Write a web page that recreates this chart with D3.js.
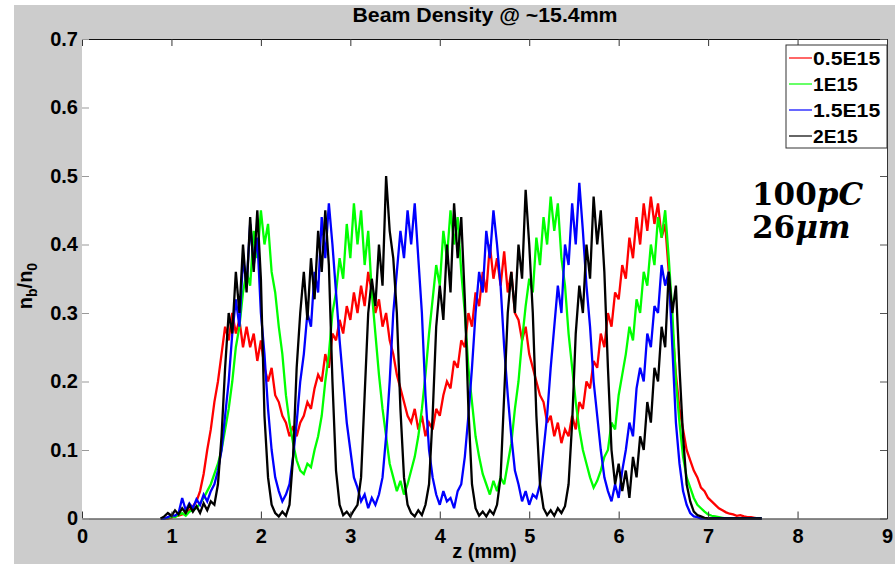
<!DOCTYPE html>
<html>
<head>
<meta charset="utf-8">
<script src="https://cdn.jsdelivr.net/npm/d3@7"></script>
<style>
  body { margin: 0; background: #fff; }
  text { font-family: 'Liberation Sans', Arial, sans-serif; font-weight: bold; }
</style>
</head>
<body>
<svg id="chart" width="895" height="564"></svg>
<script>
// z sampling of the traces (mm)
const zStart = 0.88
const zStep = 0.04

const seriesNames = ['0.5E15', '1E15', '1.5E15', '2E15']
const seriesColors = ['#ff0000', '#00ff00', '#0000ff', '#000000']

// n_b/n_0, one value per z sample
const red = [
  0, 0, 0, 0.002, 0.003, 0.004, 0.006, 0.008, 0.012, 0.018,
  0.025, 0.04, 0.065, 0.1, 0.13, 0.17, 0.2, 0.24, 0.28, 0.26,
  0.3, 0.27, 0.29, 0.25, 0.28, 0.25, 0.27, 0.23, 0.26, 0.22,
  0.2, 0.22, 0.18, 0.17, 0.15, 0.14, 0.12, 0.135, 0.12, 0.14,
  0.15, 0.17, 0.16, 0.19, 0.21, 0.2, 0.24, 0.22, 0.27, 0.26,
  0.29, 0.27, 0.31, 0.29, 0.33, 0.3, 0.34, 0.31, 0.36, 0.33,
  0.3, 0.32, 0.28, 0.3, 0.26, 0.24, 0.21, 0.19, 0.17, 0.15,
  0.14, 0.16, 0.13, 0.15, 0.12, 0.14, 0.13, 0.16, 0.15, 0.18,
  0.2, 0.19, 0.23, 0.22, 0.26, 0.25, 0.3, 0.28, 0.33, 0.31,
  0.36, 0.33, 0.4, 0.35, 0.38, 0.34, 0.39, 0.33, 0.36, 0.3,
  0.29, 0.26, 0.28, 0.24, 0.22, 0.2, 0.18, 0.17, 0.14, 0.15,
  0.12, 0.14, 0.11, 0.13, 0.12, 0.15, 0.13, 0.17, 0.16, 0.2,
  0.19, 0.23, 0.22, 0.27, 0.25, 0.3, 0.28, 0.33, 0.32, 0.37,
  0.35, 0.41, 0.38, 0.44, 0.4, 0.46, 0.42, 0.47, 0.43, 0.46,
  0.41, 0.43, 0.36, 0.28, 0.21, 0.16, 0.13, 0.1, 0.085, 0.07,
  0.06, 0.045, 0.04, 0.03, 0.025, 0.02, 0.015, 0.012, 0.009, 0.007,
  0.006, 0.004, 0.005, 0.003, 0.002, 0.002, 0.001, 0, 0
]
const green = [
  0, 0, 0.001, 0.003, 0.002, 0.005, 0.008, 0.004, 0.01, 0.012,
  0.015, 0.022, 0.03, 0.04, 0.05, 0.065, 0.08, 0.1, 0.13, 0.16,
  0.2, 0.25, 0.28, 0.33, 0.36, 0.34, 0.42, 0.38, 0.45, 0.4,
  0.43, 0.36, 0.33, 0.28, 0.24, 0.18, 0.14, 0.11, 0.085, 0.07,
  0.065, 0.08, 0.075, 0.1, 0.12, 0.15, 0.2, 0.24, 0.3, 0.33,
  0.38, 0.35, 0.43, 0.38, 0.46, 0.4, 0.45, 0.37, 0.42, 0.33,
  0.27, 0.21, 0.16, 0.12, 0.08, 0.06, 0.04, 0.055, 0.035, 0.05,
  0.07, 0.09, 0.12, 0.16, 0.21, 0.27, 0.32, 0.37, 0.34, 0.42,
  0.38, 0.45, 0.4, 0.44, 0.36, 0.3, 0.22, 0.17, 0.12, 0.09,
  0.065, 0.05, 0.035, 0.055, 0.04, 0.06, 0.05, 0.08, 0.11, 0.16,
  0.2, 0.26, 0.31, 0.35, 0.33, 0.41, 0.37, 0.44, 0.4, 0.47,
  0.42, 0.46, 0.38, 0.34, 0.27, 0.22, 0.17, 0.13, 0.1, 0.08,
  0.06, 0.045, 0.055, 0.07, 0.09, 0.1, 0.14, 0.13, 0.18, 0.21,
  0.24, 0.28, 0.26, 0.32, 0.3, 0.36, 0.34, 0.4, 0.37, 0.44,
  0.41, 0.45, 0.38, 0.3, 0.2, 0.14, 0.09, 0.06, 0.045, 0.03,
  0.02, 0.015, 0.01, 0.006, 0.004, 0.003, 0.002, 0.001, 0, 0,
  0, 0, 0, 0, 0, 0, 0, 0, 0
]
const blue = [
  0, 0, 0.002, 0.005, 0.004, 0.008, 0.03, 0.012, 0.022, 0.015,
  0.028, 0.02, 0.035, 0.025, 0.04, 0.05, 0.07, 0.1, 0.15, 0.2,
  0.27, 0.32, 0.28, 0.38, 0.34, 0.43, 0.37, 0.41, 0.3, 0.24,
  0.16, 0.1, 0.06, 0.04, 0.025, 0.035, 0.05, 0.09, 0.14, 0.2,
  0.24, 0.3, 0.28, 0.36, 0.33, 0.44, 0.38, 0.46, 0.4, 0.33,
  0.26, 0.2, 0.14, 0.1, 0.06, 0.045, 0.025, 0.035, 0.015, 0.03,
  0.02, 0.035, 0.06, 0.12, 0.2, 0.3, 0.36, 0.42, 0.38, 0.45,
  0.4, 0.46, 0.38, 0.3, 0.18, 0.1, 0.06, 0.035, 0.02, 0.04,
  0.025, 0.03, 0.015, 0.04, 0.05, 0.09, 0.15, 0.22, 0.3, 0.36,
  0.33, 0.42, 0.38, 0.45, 0.4, 0.34, 0.25, 0.18, 0.12, 0.07,
  0.05, 0.025, 0.04, 0.02, 0.035, 0.03, 0.05, 0.1, 0.15, 0.22,
  0.28, 0.34, 0.3, 0.4, 0.37, 0.46, 0.4, 0.49, 0.42, 0.34,
  0.28, 0.2, 0.15, 0.1, 0.06, 0.04, 0.025, 0.05, 0.03, 0.07,
  0.1, 0.14, 0.12, 0.19, 0.22, 0.2, 0.27, 0.25, 0.31, 0.3,
  0.37, 0.34, 0.36, 0.25, 0.14, 0.08, 0.04, 0.02, 0.008, 0.003,
  0.002, 0, 0, 0, 0, 0, 0, 0, 0, 0,
  0, 0, 0, 0, 0, 0, 0, 0, 0
]
const black = [
  0, 0.003, 0.008, 0.004, 0.012, 0.006, 0.015, 0.008, 0.02, 0.01,
  0.018, 0.008, 0.022, 0.012, 0.025, 0.02, 0.05, 0.12, 0.22, 0.3,
  0.27, 0.36, 0.3, 0.4, 0.33, 0.44, 0.36, 0.45, 0.35, 0.15,
  0.06, 0.02, 0.008, 0.003, 0.01, 0.004, 0.02, 0.09, 0.22, 0.3,
  0.36, 0.29, 0.38, 0.32, 0.42, 0.36, 0.45, 0.37, 0.2, 0.07,
  0.02, 0.005, 0.01, 0.003, 0.012, 0.02, 0.06, 0.18, 0.3, 0.35,
  0.31, 0.4, 0.34, 0.5, 0.42, 0.38, 0.3, 0.16, 0.06, 0.02,
  0.008, 0.003, 0.012, 0.005, 0.02, 0.05, 0.15, 0.28, 0.34, 0.29,
  0.4, 0.33, 0.46, 0.38, 0.44, 0.32, 0.16, 0.05, 0.015, 0.004,
  0.01, 0.003, 0.012, 0.006, 0.02, 0.06, 0.18, 0.3, 0.36, 0.3,
  0.4, 0.35, 0.48, 0.4, 0.3, 0.15, 0.05, 0.015, 0.005, 0.012,
  0.004, 0.015, 0.008, 0.018, 0.05, 0.14, 0.27, 0.34, 0.3, 0.4,
  0.35, 0.47, 0.4, 0.45, 0.36, 0.22, 0.1, 0.05, 0.08, 0.04,
  0.07, 0.03, 0.09, 0.06, 0.12, 0.1, 0.17, 0.14, 0.22, 0.2,
  0.28, 0.25, 0.36, 0.3, 0.34, 0.22, 0.12, 0.05, 0.025, 0.01,
  0.005, 0.003, 0.001, 0, 0, 0, 0, 0, 0, 0,
  0, 0, 0, 0, 0, 0, 0, 0, 0
]
const seriesValues = [red, green, blue, black]

const xTicks = [0, 1, 2, 3, 4, 5, 6, 7, 8, 9]
const yTicks = [0, 0.1, 0.2, 0.3, 0.4, 0.5, 0.6, 0.7]
const yTickLabels = ['0', '0.1', '0.2', '0.3', '0.4', '0.5', '0.6', '0.7']

const W = 895, H = 564
const margin = { top: 39, right: 8, bottom: 45.5, left: 82 }
const width = W - margin.left - margin.right
const height = H - margin.top - margin.bottom

const svg = d3.select('#chart')

// figure background
svg.append('rect').attr('x', 14).attr('y', 5).attr('width', W - 14).attr('height', H - 5).attr('fill', '#cccccc')

const g = svg.append('g').attr('transform', `translate(${margin.left},${margin.top})`)
g.append('rect').attr('width', width).attr('height', height).attr('fill', '#fff')

const x = d3.scaleLinear().domain([0, 9]).range([0, width])
const y = d3.scaleLinear().domain([0, 0.7]).range([height, 0])

const line = d3.line()
	.x((d, i) => x(zStart + i * zStep))
	.y(d => y(d))

// noisy traces: drawn a bit heavy so they read as bands like the original
seriesValues.forEach((vals, k) => {
	g.append('path').datum(vals)
		.attr('fill', 'none')
		.attr('stroke', seriesColors[k])
		.attr('stroke-width', 2.3)
		.attr('stroke-linejoin', 'miter')
		.attr('stroke-miterlimit', 3)
		.attr('d', line)
})

// axes
const xAxis = g.append('g').attr('transform', `translate(0,${height})`)
	.call(d3.axisBottom(x).tickValues(xTicks).tickFormat(d3.format('d'))
		.tickSizeInner(-7).tickSizeOuter(0).tickPadding(10))
xAxis.select('.domain').attr('stroke', '#333')
xAxis.selectAll('.tick line').attr('stroke', '#333')
xAxis.selectAll('text').attr('font-size', 20).attr('font-family', null).attr('fill', '#000')

const xTop = g.append('g')
	.call(d3.axisTop(x).tickValues(xTicks).tickFormat('').tickSizeInner(-7).tickSizeOuter(0))
xTop.select('.domain').attr('stroke', '#111')
xTop.selectAll('.tick line').attr('stroke', '#333')

const yAxis = g.append('g')
	.call(d3.axisLeft(y).tickValues(yTicks).tickFormat((d, i) => yTickLabels[i])
		.tickSizeInner(-7).tickSizeOuter(0).tickPadding(4))
yAxis.select('.domain').attr('stroke', 'none')
yAxis.selectAll('.tick line').attr('stroke', '#999')
yAxis.selectAll('text').attr('font-size', 20).attr('font-family', null).attr('fill', '#000')

const yRight = g.append('g').attr('transform', `translate(${width},0)`)
	.call(d3.axisRight(y).tickValues(yTicks).tickFormat('').tickSizeInner(-7).tickSizeOuter(0))
yRight.select('.domain').attr('stroke', '#333')
yRight.selectAll('.tick line').attr('stroke', '#555')

// title and axis labels
svg.append('text')
	.attr('x', 485).attr('y', 22)
	.attr('text-anchor', 'middle')
	.attr('font-size', 20)
	.attr('textLength', 265).attr('lengthAdjust', 'spacingAndGlyphs')
	.text('Beam Density @ ~15.4mm')

svg.append('text')
	.attr('x', margin.left + x(4.5)).attr('y', 558)
	.attr('text-anchor', 'middle')
	.attr('font-size', 20)
	.text('z (mm)')

const yLab = svg.append('text')
	.attr('transform', 'translate(32,286) rotate(-90)')
	.attr('text-anchor', 'middle')
	.attr('font-size', 20)
yLab.append('tspan').text('n')
yLab.append('tspan').attr('font-size', 14).attr('dy', 5).text('b')
yLab.append('tspan').attr('dy', -5).text('/n')
yLab.append('tspan').attr('font-size', 14).attr('dy', 5).text('0')

// legend
const legend = svg.append('g').attr('transform', 'translate(786,45)')
legend.append('rect').attr('width', 101).attr('height', 103)
	.attr('fill', '#fff').attr('stroke', '#333').attr('stroke-width', 1)
seriesNames.forEach((name, k) => {
	const row = legend.append('g').attr('transform', `translate(0,${13 + k * 26})`)
	row.append('line').attr('x1', 3).attr('x2', 26).attr('stroke', seriesColors[k]).attr('stroke-width', 1.2)
	row.append('text').attr('x', 27).attr('y', 6.5).attr('font-size', 18)
		.attr('textLength', name.length * 11.2).attr('lengthAdjust', 'spacingAndGlyphs')
		.text(name)
})

// annotation
const note = svg.append('g')
const n1 = note.append('text').attr('x', 752).attr('y', 205).attr('font-size', 31)
	.style('font-family', "'DejaVu Serif', serif")
n1.append('tspan').text('100')
n1.append('tspan').attr('font-style', 'italic').text('pC')
const n2 = note.append('text').attr('x', 752).attr('y', 238).attr('font-size', 31)
	.style('font-family', "'DejaVu Serif', serif")
n2.append('tspan').text('26')
n2.append('tspan').attr('font-style', 'italic').text('μm')
</script>
</body>
</html>
